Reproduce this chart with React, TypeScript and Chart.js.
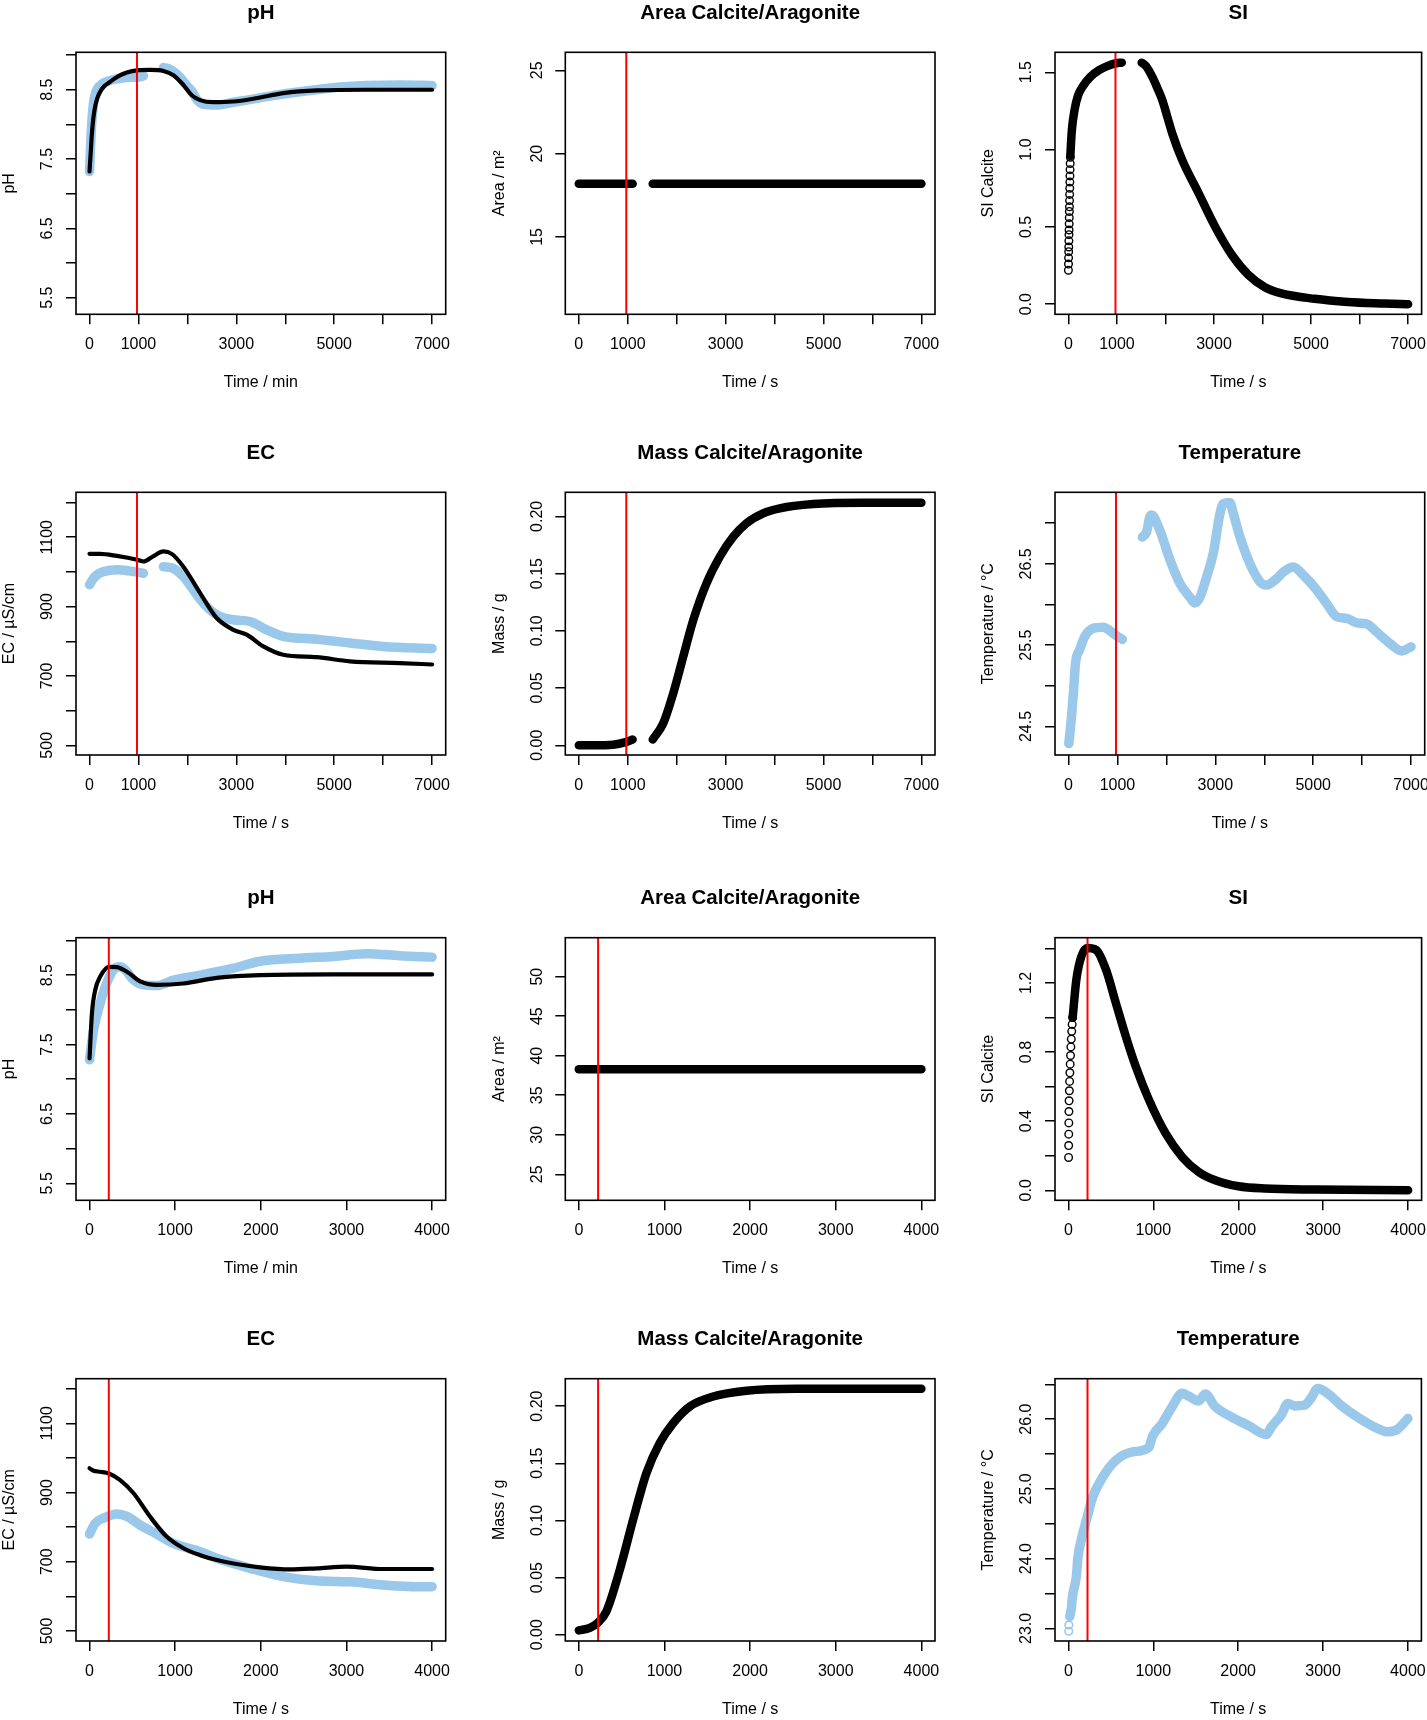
import React, { useEffect, useRef } from 'react';
import { Chart, registerables } from 'chart.js';

Chart.register(...registerables);

const FONT = "'Liberation Sans', Arial, Helvetica, sans-serif";
const BLUE = '#9ac8eb';

// ---------- shared axis ticks ----------
const X7000_TICKS = [0, 1000, 2000, 3000, 4000, 5000, 6000, 7000];
const X7000_LABELS = ['0', '1000', '', '3000', '', '5000', '', '7000'];
const X4000_TICKS = [0, 1000, 2000, 3000, 4000];
const X4000_LABELS = ['0', '1000', '2000', '3000', '4000'];
const PH_TICKS = [5.5, 6.0, 6.5, 7.0, 7.5, 8.0, 8.5, 9.0];
const PH_LABELS = ['5.5', '', '6.5', '', '7.5', '', '8.5', ''];
const AREA1_TICKS = [15, 20, 25];
const AREA1_LABELS = ['15', '20', '25'];
const AREA2_TICKS = [25, 30, 35, 40, 45, 50];
const AREA2_LABELS = ['25', '30', '35', '40', '45', '50'];
const SI1_TICKS = [0, 0.5, 1.0, 1.5];
const SI1_LABELS = ['0.0', '0.5', '1.0', '1.5'];
const SI2_TICKS = [0, 0.2, 0.4, 0.6, 0.8, 1.0, 1.2, 1.4];
const SI2_LABELS = ['0.0', '', '0.4', '', '0.8', '', '1.2', ''];
const EC_TICKS = [500, 600, 700, 800, 900, 1000, 1100, 1200];
const EC_LABELS = ['500', '', '700', '', '900', '', '1100', ''];
const MASS_TICKS = [0, 0.05, 0.1, 0.15, 0.2];
const MASS_LABELS = ['0.00', '0.05', '0.10', '0.15', '0.20'];
const TEMP1_TICKS = [24.5, 25.0, 25.5, 26.0, 26.5, 27.0];
const TEMP1_LABELS = ['24.5', '', '25.5', '', '26.5', ''];
const TEMP2_TICKS = [23.0, 23.5, 24.0, 24.5, 25.0, 25.5, 26.0, 26.5];
const TEMP2_LABELS = ['23.0', '', '24.0', '', '25.0', '', '26.0', ''];

const RED_1 = 970;
const RED_2 = 225;

// ---------- experiment 1 (0-7000) ----------
const ph1ModelX = [0, 25, 49, 80, 116, 160, 218, 300, 422, 600, 763, 973, 1239, 1510, 1714, 1918, 2090, 2260, 2531, 2939, 3347, 3959, 4640, 5660, 7000];
const ph1ModelY = [7.32, 7.6, 7.87, 8.1, 8.26, 8.38, 8.47, 8.55, 8.615, 8.7, 8.75, 8.78, 8.785, 8.77, 8.71, 8.57, 8.42, 8.35, 8.32, 8.33, 8.37, 8.45, 8.49, 8.5, 8.5];
const ph1ObsAX = [0, 40, 80, 150, 250, 400, 600, 830, 1000, 1100];
const ph1ObsAY = [7.32, 7.95, 8.3, 8.5, 8.58, 8.63, 8.66, 8.68, 8.68, 8.7];
const ph1ObsBX = [1510, 1620, 1714, 1850, 1918, 2000, 2090, 2192, 2327, 2599, 2939, 3300, 3619, 4299, 4980, 5660, 6340, 7000];
const ph1ObsBY = [8.82, 8.8, 8.76, 8.68, 8.62, 8.55, 8.48, 8.36, 8.29, 8.28, 8.32, 8.36, 8.4, 8.47, 8.53, 8.56, 8.57, 8.56];

const area1AX = [0, 1100];
const area1AY = [18.2, 18.2];
const area1BX = [1510, 7000];
const area1BY = [18.2, 18.2];

const si1EarlyX = [0, 2, 4, 6, 8, 10, 12, 14, 16, 18, 20, 22, 24, 26, 28, 30, 32, 34, 37, 40];
const si1EarlyY = [0.22, 0.26, 0.3, 0.34, 0.37, 0.41, 0.45, 0.48, 0.52, 0.56, 0.6, 0.63, 0.67, 0.71, 0.75, 0.79, 0.83, 0.87, 0.91, 0.95];
const si1AX = [40, 70, 129, 200, 299, 450, 640, 800, 981, 1100];
const si1AY = [0.96, 1.12, 1.26, 1.35, 1.41, 1.47, 1.515, 1.54, 1.558, 1.562];
const si1BX = [1510, 1600, 1730, 1830, 1935, 2040, 2139, 2344, 2685, 3027, 3366, 3708, 4049, 4390, 5072, 5754, 6500, 7000];
const si1BY = [1.562, 1.54, 1.47, 1.4, 1.32, 1.21, 1.105, 0.933, 0.717, 0.5, 0.32, 0.19, 0.11, 0.07, 0.035, 0.015, 0.005, 0.0];

const ec1ModelX = [0, 218, 558, 973, 1102, 1300, 1510, 1680, 1918, 2260, 2599, 2939, 3211, 3551, 3959, 4640, 5320, 6340, 7000];
const ec1ModelY = [1052, 1052, 1046, 1035, 1030, 1045, 1059, 1052, 1015, 939, 867, 833, 819, 785, 761, 754, 742, 737, 733];
const ec1ObsAX = [0, 60, 116, 200, 286, 558, 800, 1100];
const ec1ObsAY = [963, 977, 987, 996, 1001, 1006, 1003, 996];
const ec1ObsBX = [1510, 1714, 1918, 2123, 2327, 2599, 2939, 3279, 3619, 3959, 4640, 5320, 6000, 7000];
const ec1ObsBY = [1015, 1010, 987, 948, 910, 876, 862, 857, 833, 814, 806, 795, 785, 779];

const mass1AX = [0, 300, 700, 976, 1100];
const mass1AY = [0.0, 0.0, 0.0005, 0.003, 0.005];
const mass1BX = [1510, 1723, 1927, 2131, 2336, 2609, 2881, 3153, 3426, 3766, 4107, 4788, 5809, 7000];
const mass1BY = [0.005, 0.019, 0.045, 0.077, 0.109, 0.1415, 0.1647, 0.182, 0.194, 0.2026, 0.207, 0.2107, 0.2119, 0.2119];

const temp1AX = [6, 61, 105, 143, 225, 327, 497, 701, 974, 1100];
const temp1AY = [24.29, 24.62, 24.95, 25.28, 25.44, 25.6, 25.705, 25.72, 25.62, 25.57];
const temp1BX = [1510, 1595, 1663, 1700, 1867, 2072, 2276, 2481, 2583, 2685, 2822, 2958, 3095, 3163, 3299, 3367, 3504, 3708, 3913, 4049, 4254, 4390, 4595, 4799, 5072, 5277, 5481, 5686, 5890, 6095, 6300, 6572, 6811, 7000];
const temp1BY = [26.83, 26.89, 27.08, 27.1, 26.91, 26.55, 26.26, 26.09, 26.02, 26.09, 26.34, 26.63, 27.12, 27.24, 27.25, 27.12, 26.83, 26.5, 26.28, 26.24, 26.32, 26.4, 26.46, 26.36, 26.18, 26.01, 25.85, 25.83, 25.775, 25.76, 25.66, 25.52, 25.43, 25.48];

// ---------- experiment 2 (0-4000) ----------
const ph2ModelX = [0, 28, 67, 125, 226, 319, 436, 591, 786, 1097, 1486, 1991, 2846, 4000];
const ph2ModelY = [7.3, 7.95, 8.29, 8.48, 8.62, 8.615, 8.55, 8.41, 8.36, 8.38, 8.46, 8.5, 8.51, 8.51];
const ph2ObsX = [0, 47, 125, 202, 280, 358, 436, 514, 630, 786, 980, 1292, 1681, 1991, 2457, 2846, 3235, 3623, 4000];
const ph2ObsY = [7.28, 7.71, 8.1, 8.39, 8.58, 8.62, 8.55, 8.43, 8.36, 8.35, 8.43, 8.5, 8.6, 8.7, 8.745, 8.77, 8.81, 8.78, 8.76];

const area2X = [0, 4000];
const area2Y = [38.3, 38.3];

const si2EarlyX = [2, 3, 4, 5, 6, 8, 11, 14, 17, 21, 25, 29, 34, 39, 44, 50];
const si2EarlyY = [0.19, 0.259, 0.325, 0.39, 0.456, 0.518, 0.576, 0.63, 0.68, 0.73, 0.78, 0.83, 0.875, 0.92, 0.96, 1.0];
const si2X = [50, 93, 152, 225, 327, 444, 560, 677, 794, 950, 1145, 1339, 1534, 1729, 2002, 2313, 2897, 4000];
const si2Y = [1.0, 1.217, 1.353, 1.403, 1.391, 1.275, 1.082, 0.889, 0.715, 0.522, 0.329, 0.193, 0.106, 0.058, 0.023, 0.01, 0.004, 0.0];

const ec2ModelX = [0, 47, 125, 226, 358, 514, 708, 903, 1097, 1292, 1486, 1681, 1991, 2341, 2652, 3002, 3429, 4000];
const ec2ModelY = [970, 963, 960, 955, 936, 898, 830, 772, 739, 719, 705, 695, 684, 678, 681, 686, 679, 679];
const ec2ObsX = [0, 66, 163, 319, 436, 591, 786, 980, 1292, 1486, 1875, 2263, 2652, 3041, 3429, 3818, 4000];
const ec2ObsY = [780, 811, 826, 838, 831, 806, 780, 753, 729, 710, 681, 657, 645, 642, 633, 628, 628];

const mass2X = [0, 128, 222, 323, 479, 634, 790, 945, 1101, 1296, 1568, 1957, 2541, 4000];
const mass2Y = [0.0038, 0.006, 0.0105, 0.0206, 0.057, 0.1007, 0.1415, 0.1677, 0.185, 0.1997, 0.2084, 0.2134, 0.2151, 0.2152];

const temp2EarlyX = [4, 5];
const temp2EarlyY = [22.96, 23.05];
const temp2X = [16, 35, 47, 93, 113, 152, 222, 288, 405, 560, 755, 950, 989, 1106, 1223, 1339, 1417, 1534, 1612, 1729, 1924, 2119, 2333, 2391, 2508, 2586, 2664, 2781, 2859, 2937, 3054, 3210, 3405, 3600, 3756, 3872, 4000];
const temp2Y = [23.17, 23.29, 23.45, 23.74, 24.03, 24.27, 24.6, 24.89, 25.17, 25.41, 25.53, 25.6, 25.75, 25.94, 26.18, 26.37, 26.33, 26.26, 26.36, 26.18, 26.03, 25.91, 25.78, 25.89, 26.06, 26.225, 26.19, 26.2, 26.3, 26.44, 26.37, 26.2, 26.03, 25.89, 25.82, 25.85, 26.01];

// ---------- layout (px) ----------
const COL_LEFT = [76, 565.3, 1055];
const COL_RIGHT = [445.7, 935, 1424.7];
const ROW_TOP = [52.3, 492.3, 937.7, 1378.7];
const ROW_BOTTOM = [314.3, 755, 1200.3, 1641];

const pts = (xs: number[], ys: number[]) => xs.map((x, i) => ({ x, y: ys[i] }));

type Kind = 'model' | 'obs' | 'band' | 'circles' | 'circlesBlue';
interface SeriesSpec { kind: Kind; x: number[]; y: number[] }
interface PanelSpec {
  row: number; col: number;
  title: string; xTitle: string; yTitle: string;
  xMin: number; xMax: number; xTicks: number[]; xLabels: string[];
  yMin: number; yMax: number; yTicks: number[]; yLabels: string[];
  red: number;
  series: SeriesSpec[];
}

const X1 = { xMin: -276, xMax: 7278, xTicks: X7000_TICKS, xLabels: X7000_LABELS, red: RED_1 };
const X2 = { xMin: -158, xMax: 4159, xTicks: X4000_TICKS, xLabels: X4000_LABELS, red: RED_2 };

const PANELS: PanelSpec[] = [
  { row: 0, col: 0, title: 'pH', xTitle: 'Time / min', yTitle: 'pH', ...X1, yMin: 5.26, yMax: 9.04, yTicks: PH_TICKS, yLabels: PH_LABELS,
    series: [{ kind: 'obs', x: ph1ObsAX, y: ph1ObsAY }, { kind: 'obs', x: ph1ObsBX, y: ph1ObsBY }, { kind: 'model', x: ph1ModelX, y: ph1ModelY }] },
  { row: 0, col: 1, title: 'Area Calcite/Aragonite', xTitle: 'Time / s', yTitle: 'Area / m²', ...X1, yMin: 10.36, yMax: 26.08, yTicks: AREA1_TICKS, yLabels: AREA1_LABELS,
    series: [{ kind: 'band', x: area1AX, y: area1AY }, { kind: 'band', x: area1BX, y: area1BY }] },
  { row: 0, col: 2, title: 'SI', xTitle: 'Time / s', yTitle: 'SI Calcite', ...X1, yMin: -0.065, yMax: 1.629, yTicks: SI1_TICKS, yLabels: SI1_LABELS,
    series: [{ kind: 'circles', x: si1EarlyX, y: si1EarlyY }, { kind: 'band', x: si1AX, y: si1AY }, { kind: 'band', x: si1BX, y: si1BY }] },
  { row: 1, col: 0, title: 'EC', xTitle: 'Time / s', yTitle: 'EC / µS/cm', ...X1, yMin: 472, yMax: 1229.5, yTicks: EC_TICKS, yLabels: EC_LABELS,
    series: [{ kind: 'obs', x: ec1ObsAX, y: ec1ObsAY }, { kind: 'obs', x: ec1ObsBX, y: ec1ObsBY }, { kind: 'model', x: ec1ModelX, y: ec1ModelY }] },
  { row: 1, col: 1, title: 'Mass Calcite/Aragonite', xTitle: 'Time / s', yTitle: 'Mass / g', ...X1, yMin: -0.0085, yMax: 0.221, yTicks: MASS_TICKS, yLabels: MASS_LABELS,
    series: [{ kind: 'band', x: mass1AX, y: mass1AY }, { kind: 'band', x: mass1BX, y: mass1BY }] },
  { row: 1, col: 2, title: 'Temperature', xTitle: 'Time / s', yTitle: 'Temperature / °C', ...X1, yMin: 24.15, yMax: 27.38, yTicks: TEMP1_TICKS, yLabels: TEMP1_LABELS,
    series: [{ kind: 'obs', x: temp1AX, y: temp1AY }, { kind: 'obs', x: temp1BX, y: temp1BY }] },
  { row: 2, col: 0, title: 'pH', xTitle: 'Time / min', yTitle: 'pH', ...X2, yMin: 5.255, yMax: 9.04, yTicks: PH_TICKS, yLabels: PH_LABELS,
    series: [{ kind: 'obs', x: ph2ObsX, y: ph2ObsY }, { kind: 'model', x: ph2ModelX, y: ph2ModelY }] },
  { row: 2, col: 1, title: 'Area Calcite/Aragonite', xTitle: 'Time / s', yTitle: 'Area / m²', ...X2, yMin: 21.71, yMax: 54.93, yTicks: AREA2_TICKS, yLabels: AREA2_LABELS,
    series: [{ kind: 'band', x: area2X, y: area2Y }] },
  { row: 2, col: 2, title: 'SI', xTitle: 'Time / s', yTitle: 'SI Calcite', ...X2, yMin: -0.058, yMax: 1.462, yTicks: SI2_TICKS, yLabels: SI2_LABELS,
    series: [{ kind: 'circles', x: si2EarlyX, y: si2EarlyY }, { kind: 'band', x: si2X, y: si2Y }] },
  { row: 3, col: 0, title: 'EC', xTitle: 'Time / s', yTitle: 'EC / µS/cm', ...X2, yMin: 471, yMax: 1229, yTicks: EC_TICKS, yLabels: EC_LABELS,
    series: [{ kind: 'obs', x: ec2ObsX, y: ec2ObsY }, { kind: 'model', x: ec2ModelX, y: ec2ModelY }] },
  { row: 3, col: 1, title: 'Mass Calcite/Aragonite', xTitle: 'Time / s', yTitle: 'Mass / g', ...X2, yMin: -0.0055, yMax: 0.224, yTicks: MASS_TICKS, yLabels: MASS_LABELS,
    series: [{ kind: 'band', x: mass2X, y: mass2Y }] },
  { row: 3, col: 2, title: 'Temperature', xTitle: 'Time / s', yTitle: 'Temperature / °C', ...X2, yMin: 22.82, yMax: 26.58, yTicks: TEMP2_TICKS, yLabels: TEMP2_LABELS,
    series: [{ kind: 'circlesBlue', x: temp2EarlyX, y: temp2EarlyY }, { kind: 'obs', x: temp2X, y: temp2Y }] },
];

const boxPlugin = {
  id: 'rbox',
  afterDatasetsDraw(chart: any) {
    const { ctx, chartArea: a } = chart;
    ctx.save();
    ctx.strokeStyle = '#000';
    ctx.lineWidth = 1.6;
    ctx.strokeRect(a.left, a.top, a.right - a.left, a.bottom - a.top);
    ctx.restore();
  },
};

function labelFor(ticks: number[], labels: string[], v: number) {
  for (let i = 0; i < ticks.length; i++) if (Math.abs(ticks[i] - v) < 1e-9) return labels[i];
  return '';
}

function Panel({ spec }: { spec: PanelSpec }) {
  const ref = useRef<HTMLCanvasElement>(null);
  const boxL = COL_LEFT[spec.col];
  const boxR = COL_RIGHT[spec.col];
  const boxT = ROW_TOP[spec.row];
  const boxB = ROW_BOTTOM[spec.row];
  const cLeft = Math.floor(boxL) - 76;
  const cTop = Math.floor(boxT) - 52;
  const cW = Math.min(Math.round(boxR - cLeft) + 34, 1427 - cLeft);
  const cH = Math.min(Math.round(boxB - cTop) + 82, 1720 - cTop);

  useEffect(() => {
    const bl = boxL - cLeft;
    const bt = boxT - cTop;
    const br = boxR - cLeft;
    const bb = boxB - cTop;
    const XH = 78;
    const TL = 10;
    const m = document.createElement('canvas').getContext('2d')!;
    m.font = `normal 16px ${FONT}`;
    const widest = Math.max(...spec.yLabels.map((l) => m.measureText(l).width));
    const yPad = Math.max(0, 28.2 - TL - widest / 2);

    const datasets: any[] = [
      {
        data: [{ x: spec.red, y: spec.yMin }, { x: spec.red, y: spec.yMax }],
        borderColor: '#ff0000', borderWidth: 2, pointRadius: 0, order: 0,
      },
    ];
    spec.series.forEach((s) => {
      const data = pts(s.x, s.y);
      if (s.kind === 'model') {
        datasets.push({ data, borderColor: '#000', borderWidth: 4.2, pointRadius: 0, cubicInterpolationMode: 'monotone', borderCapStyle: 'round', borderJoinStyle: 'round', order: 2 });
      } else if (s.kind === 'obs') {
        datasets.push({ data, borderColor: BLUE, borderWidth: 9.5, pointRadius: 0, cubicInterpolationMode: 'monotone', borderCapStyle: 'round', borderJoinStyle: 'round', order: 3 });
      } else if (s.kind === 'band') {
        datasets.push({ data, borderColor: '#000', borderWidth: 8.5, pointRadius: 0, cubicInterpolationMode: 'monotone', borderCapStyle: 'round', borderJoinStyle: 'round', order: 2 });
      } else if (s.kind === 'circles') {
        datasets.push({ data, showLine: false, pointRadius: 3.8, pointBorderWidth: 1.4, pointBorderColor: '#000', pointBackgroundColor: 'rgba(0,0,0,0)', order: 1 });
      } else {
        datasets.push({ data, showLine: false, pointRadius: 3.8, pointBorderWidth: 1.6, pointBorderColor: BLUE, pointBackgroundColor: 'rgba(0,0,0,0)', order: 3 });
      }
    });

    const tickFont = { family: FONT, size: 16 };
    const grid = { display: true, drawOnChartArea: false, drawTicks: true, tickLength: TL, color: '#000', lineWidth: 1.5 };
    const TS = 20.5;

    const chart = new Chart(ref.current!, {
      type: 'line',
      data: { datasets },
      options: {
        responsive: false,
        animation: false,
        devicePixelRatio: 1,
        events: [],
        layout: { padding: { left: 0, top: 0, right: cW - br, bottom: cH - bb - XH } },
        plugins: {
          legend: { display: false },
          tooltip: { enabled: false },
          title: {
            display: true, text: spec.title, fullSize: false, color: '#000',
            font: { family: FONT, size: TS, weight: 'bold', lineHeight: 1.2 },
            padding: { top: bt - 51.7, bottom: 51.7 - TS * 1.2 },
          },
        },
        scales: {
          x: {
            type: 'linear', position: 'bottom', min: spec.xMin, max: spec.xMax, bounds: 'data',
            afterBuildTicks: (s: any) => { s.ticks = spec.xTicks.map((v) => ({ value: v })); },
            afterFit: (s: any) => { s.height = XH; s.paddingLeft = 0; s.paddingRight = 0; s.paddingTop = 0; s.paddingBottom = 0; },
            ticks: { autoSkip: false, minRotation: 0, maxRotation: 0, padding: 10.6, color: '#000', font: tickFont,
              callback: (v: any) => labelFor(spec.xTicks, spec.xLabels, Number(v)) },
            grid,
            border: { display: false },
            title: { display: true, text: spec.xTitle, color: '#000', font: tickFont, padding: { top: 0, bottom: 0.2 } },
          },
          y: {
            type: 'linear', position: 'left', min: spec.yMin, max: spec.yMax, bounds: 'data',
            afterBuildTicks: (s: any) => { s.ticks = spec.yTicks.map((v) => ({ value: v })); },
            afterFit: (s: any) => { s.width = bl; s.paddingLeft = 0; s.paddingRight = 0; s.paddingTop = 0; s.paddingBottom = 0; },
            ticks: { autoSkip: false, minRotation: 90, maxRotation: 90, crossAlign: 'center', padding: yPad, color: '#000', font: tickFont,
              callback: (v: any) => labelFor(spec.yTicks, spec.yLabels, Number(v)) },
            grid,
            border: { display: false },
            title: { display: true, text: spec.yTitle, color: '#000', font: tickFont, padding: { top: bl - 75.6, bottom: 0 } },
          },
        },
      } as any,
      plugins: [boxPlugin],
    });
    return () => chart.destroy();
  }, []);

  return (
    <canvas
      ref={ref}
      width={cW}
      height={cH}
      style={{ position: 'absolute', left: cLeft, top: cTop, width: cW, height: cH }}
    />
  );
}

export default function App() {
  return (
    <div style={{ position: 'absolute', left: 0, top: 0, width: 1427, height: 1720, background: '#fff', overflow: 'hidden' }}>
      {PANELS.map((p, i) => (
        <Panel key={i} spec={p} />
      ))}
    </div>
  );
}
